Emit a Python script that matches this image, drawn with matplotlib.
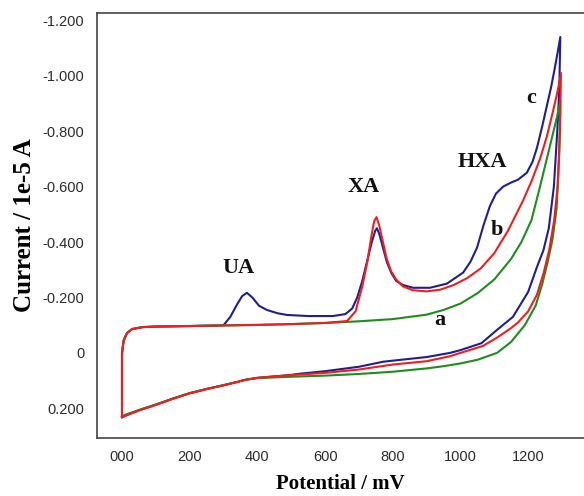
import matplotlib.pyplot as plt

# potential (mV) and current (1e-5 A), one closed loop per curve
start_e = [0, 0, 5, 15, 30, 60, 100]
start_i = [0.228, 0.0, -0.045, -0.072, -0.086, -0.093, -0.095]

a_fwd_e = [200, 300, 400, 500, 600, 700, 800, 900, 950, 1000, 1050, 1100, 1150,
           1180, 1210, 1235, 1255, 1273, 1285, 1295]
a_fwd_i = [-0.097, -0.099, -0.101, -0.104, -0.108, -0.114, -0.122, -0.138, -0.155,
           -0.178, -0.215, -0.265, -0.34, -0.40, -0.48, -0.60, -0.70, -0.79, -0.85, -0.91]
a_rev_e = [1292, 1284, 1272, 1258, 1242, 1222, 1190, 1150, 1108, 1050, 1000, 950,
           900, 800, 700, 600, 500, 400, 370, 340, 300, 250, 200, 150, 100, 50, 10, 0]
a_rev_i = [-0.72, -0.52, -0.41, -0.33, -0.25, -0.17, -0.10, -0.04, 0.0, 0.025, 0.038,
           0.048, 0.056, 0.068, 0.076, 0.082, 0.086, 0.091, 0.096, 0.105, 0.116, 0.13,
           0.146, 0.165, 0.186, 0.206, 0.223, 0.229]

b_fwd_e = [200, 300, 400, 500, 600, 665, 690, 710, 725, 738, 745, 752, 760, 771, 782,
           795, 810, 830, 860, 900, 940, 980, 1020, 1060, 1100, 1140, 1185, 1210, 1235,
           1255, 1273, 1288, 1297]
b_fwd_i = [-0.097, -0.099, -0.101, -0.104, -0.108, -0.115, -0.15, -0.24, -0.33, -0.43,
           -0.475, -0.49, -0.46, -0.40, -0.34, -0.295, -0.265, -0.24, -0.226, -0.222,
           -0.228, -0.245, -0.27, -0.305, -0.36, -0.44, -0.55, -0.62, -0.70, -0.78,
           -0.87, -0.95, -1.01]
b_rev_e = [1294, 1287, 1277, 1262, 1246, 1226, 1200, 1170, 1150, 1108, 1066, 1000,
           969, 900, 800, 700, 600, 500, 400, 360, 340, 300, 250, 200, 150, 100, 50, 10, 0]
b_rev_i = [-0.80, -0.60, -0.48, -0.37, -0.29, -0.21, -0.15, -0.11, -0.09, -0.055,
           -0.025, 0.0, 0.012, 0.03, 0.042, 0.06, 0.072, 0.08, 0.09, 0.098, 0.105,
           0.117, 0.131, 0.146, 0.166, 0.188, 0.208, 0.227, 0.232]

c_fwd_e = [200, 290, 300, 320, 340, 355, 369, 385, 405, 428, 460, 487, 550, 623, 660,
           680, 695, 710, 724, 738, 748, 753, 760, 771, 782, 795, 810, 830, 860, 910,
           960, 1008, 1030, 1049, 1068, 1087, 1105, 1126, 1150, 1170, 1196, 1213, 1226,
           1242, 1255, 1268, 1279, 1288, 1295]
c_fwd_i = [-0.097, -0.099, -0.10, -0.13, -0.175, -0.205, -0.217, -0.20, -0.17, -0.155,
           -0.143, -0.137, -0.133, -0.133, -0.14, -0.16, -0.20, -0.26, -0.33, -0.40,
           -0.44, -0.45, -0.43, -0.38, -0.33, -0.29, -0.26, -0.245, -0.235, -0.235,
           -0.25, -0.29, -0.33, -0.38, -0.46, -0.53, -0.575, -0.60, -0.615, -0.625,
           -0.65, -0.69, -0.74, -0.82, -0.89, -0.96, -1.03, -1.09, -1.14]
c_rev_e = [1292, 1286, 1276, 1261, 1245, 1226, 1200, 1155, 1108, 1062, 1000, 969,
           900, 800, 771, 700, 600, 526, 496, 400, 360, 340, 300, 250, 200, 150, 100,
           50, 10, 0]
c_rev_i = [-0.95, -0.80, -0.60, -0.45, -0.37, -0.31, -0.22, -0.13, -0.083, -0.035,
           -0.01, 0.0, 0.015, 0.028, 0.032, 0.05, 0.066, 0.075, 0.08, 0.09, 0.098,
           0.105, 0.117, 0.13, 0.145, 0.165, 0.187, 0.207, 0.226, 0.233]

y_ticks = [-1.2, -1.0, -0.8, -0.6, -0.4, -0.2, 0.0, 0.2]
x_ticks = [0, 200, 400, 600, 800, 1000, 1200]

# peak and curve labels: text, potential, current
notes = [("UA", 343, -0.307), ("XA", 714, -0.60), ("HXA", 1064, -0.69),
         ("c", 1208, -0.92), ("b", 1108, -0.444), ("a", 940, -0.12)]

fig = plt.figure(figsize=(5.84, 4.96), dpi=100)
ax = fig.add_axes([0.166, 0.117, 0.834, 0.857])

curves = [
    (c_fwd_e, c_fwd_i, c_rev_e, c_rev_i, "#1f1f8f"),
    (a_fwd_e, a_fwd_i, a_rev_e, a_rev_i, "#1e8c1e"),
    (b_fwd_e, b_fwd_i, b_rev_e, b_rev_i, "#f01e1e"),
]
for fe, fi, re_, ri, col in curves:
    xs = start_e + fe + re_
    ys = start_i + fi + ri
    ax.plot(xs, ys, color=col, lw=1.5, solid_joinstyle="round")

for txt, e, i in notes:
    ax.text(e, i, txt, ha="center", va="center", fontsize=16, fontweight="bold",
            family="Liberation Serif", color="#111111")

ax.set_xlim(-74, 1365)
ax.set_ylim(0.307, -1.227)
ax.set_xticks(x_ticks)
ax.set_xticklabels([f"{v:03d}" for v in x_ticks])
ax.set_yticks(y_ticks)
ax.set_yticklabels(["0" if v == 0 else f"{v:.3f}" for v in y_ticks])
ax.tick_params(length=0, labelsize=10.5, labelcolor="#2b2b2b")
ax.tick_params(axis="y", pad=9)
ax.tick_params(axis="x", pad=9)
for lab in ax.get_xticklabels() + ax.get_yticklabels():
    lab.set_family("Liberation Sans")

for s in ["left", "top", "bottom"]:
    ax.spines[s].set_color("#444444")
    ax.spines[s].set_linewidth(1.2)
ax.spines["right"].set_visible(False)

ax.set_xlabel("Potential / mV", fontsize=15, fontweight="bold",
              family="Liberation Serif", labelpad=7)
ax.set_ylabel("Current / 1e-5 A", fontsize=18, fontweight="bold",
              family="Liberation Serif", labelpad=5)

fig.savefig("out.png", dpi=100)
